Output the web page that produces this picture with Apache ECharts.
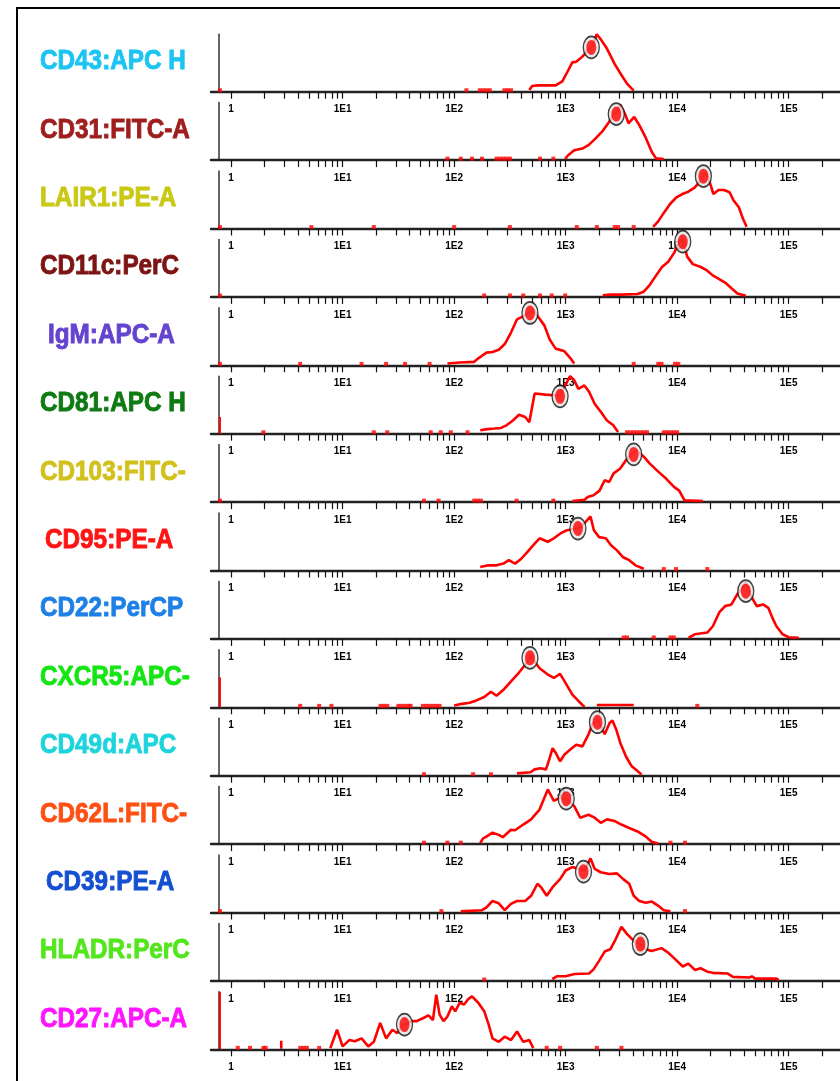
<!DOCTYPE html>
<html><head><meta charset="utf-8">
<script src="https://cdn.jsdelivr.net/npm/echarts@6/dist/echarts.min.js"></script>
<style>html,body{margin:0;padding:0;background:#fff}#c{width:840px;height:1081px}</style>
</head><body><div id="c"></div>
<script>
// ---------- data ----------
const markerNames = ["CD43:APC H","CD31:FITC-A","LAIR1:PE-A","CD11c:PerC","IgM:APC-A","CD81:APC H","CD103:FITC-","CD95:PE-A","CD22:PerCP","CXCR5:APC-","CD49d:APC","CD62L:FITC-","CD39:PE-A","HLADR:PerC","CD27:APC-A"];
const tickLabels = ["1","1E1","1E2","1E3","1E4","1E5"];
const minorTickValues = [1,2,3,4,5,6,7,8,9,10,20,30,40,50,60,70,80,90,100,200,300,400,500,600,700,800,900,1000,2000,3000,4000,5000,6000,7000,8000,9000,10000,20000,30000,40000,50000,60000,70000,80000,90000,100000,200000];

// histograms: [log10(intensity), % of panel max]
const hCD43 = [[2.674,3],[2.70,10],[2.75,11],[2.84,11],[2.91,11],[2.97,18],[3.02,36],[3.06,51],[3.095,52],[3.15,61],[3.20,72],[3.24,79],[3.278,100],[3.315,91],[3.37,75],[3.44,48],[3.50,29],[3.55,14],[3.61,2]];
const hCD31 = [[2.996,2],[3.02,8],[3.077,17],[3.15,20],[3.205,26],[3.26,36],[3.333,51],[3.388,66],[3.432,80],[3.46,84],[3.49,96],[3.535,79],[3.564,64],[3.615,75],[3.663,60],[3.718,39],[3.773,14],[3.81,3],[3.88,2]];
const hLAIR1 = [[3.784,3],[3.828,12],[3.883,28],[3.938,43],[3.993,54],[4.048,60],[4.10,64],[4.157,71],[4.20,81],[4.24,94],[4.26,98],[4.296,78],[4.325,60],[4.37,67],[4.42,67],[4.47,63],[4.505,49],[4.553,37],[4.59,17],[4.623,3]];
const hCD11c = [[3.333,3],[3.40,4],[3.50,4],[3.645,5],[3.70,9],[3.755,21],[3.81,37],[3.864,52],[3.92,61],[3.974,77],[4.018,95],[4.048,100],[4.09,70],[4.14,57],[4.212,52],[4.267,46],[4.322,37],[4.377,31],[4.43,25],[4.487,15],[4.54,6],[4.615,2]];
const hIgM = [[1.94,3],[2.05,5],[2.18,6],[2.223,13],[2.29,22],[2.344,23],[2.40,27],[2.454,37],[2.51,57],[2.564,80],[2.626,86],[2.685,92],[2.71,97],[2.758,83],[2.81,69],[2.857,45],[2.91,29],[2.985,25],[3.04,13],[3.077,3]];
const hCD81 = [[2.234,6],[2.30,8],[2.363,9],[2.42,10],[2.473,15],[2.527,23],[2.582,33],[2.637,29],[2.674,20],[2.722,70],[2.82,68],[2.894,67],[2.95,67],[2.996,84],[3.04,100],[3.077,93],[3.114,78],[3.168,84],[3.21,73],[3.26,52],[3.315,38],[3.37,23],[3.425,15],[3.47,3]];
const hCD103 = [[3.06,2],[3.17,4],[3.198,9],[3.25,12],[3.304,20],[3.35,38],[3.39,35],[3.43,50],[3.487,58],[3.542,73],[3.60,84],[3.637,90],[3.70,79],[3.755,67],[3.83,53],[3.90,41],[3.974,26],[4.018,20],[4.066,3],[4.23,2]];
const hCD95 = [[2.234,6],[2.307,9],[2.38,9],[2.443,12],[2.49,18],[2.546,12],[2.60,20],[2.656,32],[2.71,44],[2.766,56],[2.84,50],[2.894,56],[2.95,64],[3.01,70],[3.11,73],[3.168,82],[3.223,94],[3.253,70],[3.30,58],[3.36,56],[3.407,44],[3.46,35],[3.516,23],[3.57,18],[3.626,9],[3.70,3]];
const hCD22 = [[4.103,2],[4.158,8],[4.27,11],[4.32,22],[4.377,46],[4.43,57],[4.487,60],[4.54,78],[4.59,91],[4.615,98],[4.66,75],[4.714,57],[4.77,60],[4.817,54],[4.853,37],[4.89,22],[4.945,8],[5.0,3],[5.09,2]];
const hCXCR5 = [[2.0,3],[2.07,6],[2.14,8],[2.2,12],[2.27,18],[2.33,27],[2.38,20],[2.44,30],[2.51,45],[2.58,60],[2.637,74],[2.685,90],[2.72,80],[2.766,68],[2.84,57],[2.894,51],[2.95,58],[3.0,42],[3.06,22],[3.11,12],[3.15,4],[3.17,1],[3.22,'-'],[3.28,4],[3.61,4]];
const hCD49d = [[2.564,4],[2.685,6],[2.722,11],[2.773,13],[2.824,11],[2.857,31],[2.883,48],[2.91,40],[2.95,25],[2.99,37],[3.044,46],[3.095,54],[3.15,51],[3.205,72],[3.24,89],[3.286,97],[3.33,80],[3.35,72],[3.395,92],[3.42,96],[3.454,80],[3.49,57],[3.542,33],[3.59,17],[3.645,8],[3.68,2]];
const hCD62L = [[2.234,2],[2.26,10],[2.29,13],[2.344,20],[2.40,16],[2.436,12],[2.51,25],[2.546,24],[2.62,34],[2.69,43],[2.766,60],[2.84,95],[2.894,75],[2.95,81],[3.015,77],[3.077,66],[3.13,46],[3.205,51],[3.26,46],[3.315,37],[3.37,43],[3.44,40],[3.5,34],[3.57,28],[3.645,22],[3.72,13],[3.77,4],[3.83,1]];
const hCD39 = [[2.06,2],[2.25,4],[2.29,9],[2.344,20],[2.40,16],[2.454,4],[2.51,15],[2.564,20],[2.637,20],[2.69,29],[2.747,50],[2.78,44],[2.83,29],[2.883,44],[2.95,58],[3.0,73],[3.06,79],[3.11,76],[3.168,73],[3.223,94],[3.26,76],[3.315,70],[3.39,67],[3.46,68],[3.516,58],[3.57,50],[3.61,29],[3.66,20],[3.718,17],[3.773,19],[3.828,12],[3.88,4],[3.94,2]];
const hHLADR = [[2.88,3],[2.92,8],[3.0,8],[3.08,12],[3.21,13],[3.25,20],[3.297,34],[3.35,51],[3.40,55],[3.44,69],[3.50,94],[3.553,81],[3.61,70],[3.674,63],[3.72,55],[3.77,52],[3.86,57],[3.92,49],[3.97,40],[4.05,25],[4.1,30],[4.16,19],[4.21,22],[4.27,16],[4.32,14],[4.45,13],[4.5,7],[4.65,6],[4.67,8],[4.7,4],[4.89,4],[4.91,1]];
const hCD27 = [[0.45,1],[0.45,15],[0.5,'-'],[0.89,2],[0.95,34],[1.0,5],[1.06,16],[1.11,14],[1.17,19],[1.23,5],[1.28,13],[1.337,46],[1.39,19],[1.447,34],[1.49,28],[1.53,41],[1.557,43],[1.61,49],[1.665,49],[1.72,54],[1.77,59],[1.81,51],[1.84,95],[1.87,60],[1.905,49],[1.94,57],[1.98,75],[2.01,66],[2.05,81],[2.09,78],[2.125,87],[2.16,92],[2.216,81],[2.27,66],[2.31,43],[2.344,19],[2.40,13],[2.454,22],[2.51,16],[2.564,31],[2.62,13],[2.674,16],[2.71,2]];
const histograms = [hCD43,hCD31,hLAIR1,hCD11c,hIgM,hCD81,hCD103,hCD95,hCD22,hCXCR5,hCD49d,hCD62L,hCD39,hHLADR,hCD27];

// median markers: [log10(intensity), % of max]
const medians = [[3.23,77],[3.454,80],[4.235,91],[4.05,96],[2.68,91],[2.95,65],[3.61,83],[3.11,73],[4.615,83],[2.68,86],[3.285,93],[3.005,79],[3.16,71],[3.67,64],[1.555,43]];

// isolated low-count events (log10 positions)
const sparseEvents = [
  [-0.1,2.11,2.23,2.26,2.29,2.32,2.45,2.48,2.51],
  [1.94,2.06,2.16,2.25,2.38,2.41,2.44,2.47,2.5,2.77,2.89],
  [-0.1,0.72,1.28,2.0,2.5,3.1,3.28,3.44,3.47,3.61],
  [-0.1,2.27,2.5,2.62,2.77,2.875,2.996],
  [-0.1,0.62,1.17,1.39,1.56,1.78,3.61,3.83,3.86,3.98,4.01],
  [0.29,1.28,1.40,1.79,1.88,1.97,2.12,3.55,3.58,3.61,3.64,3.67,3.70,3.73,3.88,3.91,3.94,3.97,4.0],
  [-0.1,1.73,1.86,2.18,2.21,2.24,2.56,2.89],
  [3.88,3.99,4.27],
  [3.52,3.55,3.79,3.94,3.97],
  [0.62,0.79,0.9,1.34,1.37,1.40,1.50,1.53,1.56,1.59,1.61,1.72,1.75,1.78,1.81,1.84,1.87,4.18],
  [1.73,2.17,2.33],
  [1.73,1.94,2.06,3.94,4.07],
  [-0.1,1.886,4.07],
  [2.27],
  [0.06,0.17,0.29,0.31,0.62,0.65,0.68,0.79,2.83,2.95,3.28,3.5]
];
// off-scale-low bin heights (% of max), drawn at the axis
const lowBin = [0,0,0,0,0,29,0,0,0,52,0,0,0,0,100];
const lowBinPos = -0.1;

// ---------- styles / layout ----------
const labelColors = ["#1CC4F2","#9E1E1E","#C9C814","#7D1414","#6443CF","#0E7A12","#D2C01C","#FF1414","#1E80E6","#14E614","#1ED4DC","#FF5014","#1450D0","#52E61C","#FF14FF"];
const labelX = [40,40,40,40,48,40,40,45,40,40,40,40,46,40,40];
const BASE0 = 91.7, STEP = 68.4, PH = 57.5, LEFT = 211;
const RED = '#ff0000';

const grids = [], xAxes = [], yAxes = [], series = [], graphics = [];
const tickPos = minorTickValues.map(v => Math.log10(v));
markerNames.forEach((name, i) => {
  const base = BASE0 + STEP * i;
  grids.push({left: LEFT, right: 0, top: base - PH, height: PH, containLabel: false});
  xAxes.push({
    type: 'value', gridIndex: i, min: -0.18, max: 5.46,
    axisLine: {show: true, onZero: false, lineStyle: {color: '#222', width: 2.4}},
    axisTick: {show: true, length: 7, customValues: tickPos, lineStyle: {color: '#111', width: 1.2}},
    axisLabel: {show: true, customValues: [0,1,2,3,4,5], margin: 13,
      formatter: v => tickLabels[Math.round(v)],
      fontSize: 10, fontWeight: 'bold', color: '#000', fontFamily: '"Liberation Sans", Arial, sans-serif'},
    splitLine: {show: false}
  });
  yAxes.push({
    type: 'value', gridIndex: i, min: 0, max: 100, offset: -7.5,
    axisLine: {show: true, onZero: false, lineStyle: {color: '#333', width: 1.5}},
    axisTick: {show: false}, axisLabel: {show: false}, splitLine: {show: false}
  });
  series.push({type: 'line', xAxisIndex: i, yAxisIndex: i, data: histograms[i], showSymbol: false,
    connectNulls: false, lineStyle: {color: RED, width: 2.6}, silent: true, z: 3});
  series.push({type: 'scatter', xAxisIndex: i, yAxisIndex: i, data: sparseEvents[i].map(x => [x, 2.5]),
    symbol: 'rect', symbolSize: [4, 4], itemStyle: {color: RED}, silent: true, clip: false, z: 3});
  if (lowBin[i] > 0) {
    series.push({type: 'line', xAxisIndex: i, yAxisIndex: i, data: [[lowBinPos, 0], [lowBinPos, lowBin[i]]],
      showSymbol: false, lineStyle: {color: RED, width: 2}, silent: true, z: 3});
  }
  series.push({type: 'scatter', xAxisIndex: i, yAxisIndex: i, data: [medians[i]], symbol: 'circle',
    symbolSize: [16, 22], itemStyle: {color: '#e4e4e4', borderColor: '#111', borderWidth: 1.5}, silent: true, clip: false, z: 8});
  series.push({type: 'scatter', xAxisIndex: i, yAxisIndex: i, data: [medians[i]], symbol: 'circle',
    symbolSize: [10, 15], itemStyle: {color: RED}, silent: true, clip: false, z: 9});
  graphics.push({type: 'text', x: labelX[i], y: base - 30, scaleX: 0.9, z: 10,
    style: {text: name, fill: labelColors[i], stroke: labelColors[i], lineWidth: 0.9,
      font: 'bold 27px "Liberation Sans", Arial, sans-serif', textAlign: 'left', verticalAlign: 'middle'}});
});
graphics.push({type: 'rect', shape: {x: 17, y: 8, width: 900, height: 1200},
  style: {fill: 'none', stroke: '#000', lineWidth: 2}, z: 20});

const chart = echarts.init(document.getElementById('c'), null, {renderer: 'canvas'});
chart.setOption({
  animation: false, backgroundColor: '#fff',
  grid: grids, xAxis: xAxes, yAxis: yAxes, series: series, graphic: graphics
});
</script></body></html>
